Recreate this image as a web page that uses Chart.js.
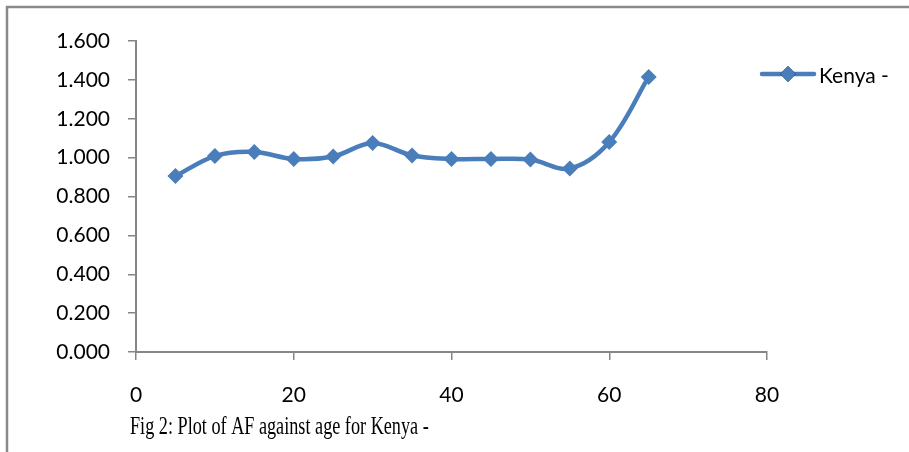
<!DOCTYPE html>
<html>
<head>
<meta charset="utf-8">
<script src="https://cdn.jsdelivr.net/npm/chart.js@4"></script>
<style>
  html, body { margin: 0; padding: 0; background: #fff; }
  #wrap { width: 909px; height: 452px; position: relative; }
</style>
</head>
<body>
<div id="wrap"><canvas id="myChart" width="909" height="452"></canvas></div>
<script>
// data
const ages = [5, 10, 15, 20, 25, 30, 35, 40, 45, 50, 55, 60, 65];
const afValues = [0.905, 1.008, 1.029, 0.993, 1.006, 1.075, 1.011, 0.993, 0.993, 0.990, 0.944, 1.080, 1.415];
const seriesName = 'Kenya -';
const caption = 'Fig 2: Plot of AF against age for Kenya -';

const blue = '#4a7ebb';
const axisGrey = '#868686';
const tickFont = { family: 'Lato', size: 21 };

// outer frame + caption + legend (line with diamond, like the office chart)
const decor = {
  id: 'decor',
  beforeDraw(chart) {
    const { ctx } = chart;
    ctx.save();
    ctx.strokeStyle = '#8a8a8a';
    ctx.lineWidth = 2.5;
    ctx.beginPath();
    ctx.moveTo(7, 452);
    ctx.lineTo(7, 7);
    ctx.lineTo(909, 7);
    ctx.stroke();
    ctx.restore();
  },
  afterDraw(chart) {
    const { ctx } = chart;
    ctx.save();
    // legend
    ctx.strokeStyle = blue;
    ctx.lineWidth = 4.5;
    ctx.lineCap = 'round';
    ctx.beginPath();
    ctx.moveTo(762, 74);
    ctx.lineTo(814, 74);
    ctx.stroke();
    Chart.helpers.drawPoint(ctx, { pointStyle: 'rectRot', radius: 8, borderWidth: 0 }, 788, 74);
    ctx.fillStyle = blue;
    ctx.fill();
    ctx.fillStyle = '#000';
    ctx.font = '21px Lato';
    ctx.textBaseline = 'middle';
    ctx.fillText(seriesName, 819, 76);

    // caption, condensed serif like the source document
    ctx.font = '26px "Liberation Serif"';
    ctx.textBaseline = 'alphabetic';
    ctx.translate(130, 434);
    ctx.scale(0.7, 1);
    ctx.fillText(caption, 0, 0);
    ctx.restore();
  },
};

const data = {
  datasets: [{
    label: seriesName,
    data: ages.map((a, i) => ({ x: a, y: afValues[i] })),
    borderColor: blue,
    backgroundColor: blue,
    borderWidth: 4.5,
    tension: 0.35,
    pointStyle: 'rectRot',
    pointRadius: 8,
    pointBorderWidth: 0,
    pointBackgroundColor: blue,
  }],
};

const config = {
  type: 'line',
  data,
  plugins: [decor],
  options: {
    responsive: false,
    animation: false,
    layout: { padding: { left: 0, top: 41, right: 142, bottom: 0 } },
    plugins: {
      legend: { display: false },
      tooltip: { enabled: false },
    },
    scales: {
      x: {
        type: 'linear',
        min: 0,
        max: 80,
        ticks: { stepSize: 20, color: '#000', font: tickFont, padding: 23 },
        grid: { drawOnChartArea: false, drawTicks: true, tickLength: 8, color: axisGrey, lineWidth: 1.5 },
        border: { color: axisGrey, width: 2 },
        afterFit: (s) => { s.height = 100; },
      },
      y: {
        min: 0,
        max: 1.6,
        ticks: {
          stepSize: 0.2,
          color: '#000',
          font: tickFont,
          padding: 18,
          callback: (v) => Number(v).toFixed(3),
        },
        grid: { drawOnChartArea: false, drawTicks: true, tickLength: 8, color: axisGrey, lineWidth: 1.5 },
        border: { color: axisGrey, width: 2 },
        afterFit: (s) => { s.width = 136; },
      },
    },
  },
};

const myChart = new Chart(document.querySelector('#myChart'), config);
</script>
</body>
</html>
